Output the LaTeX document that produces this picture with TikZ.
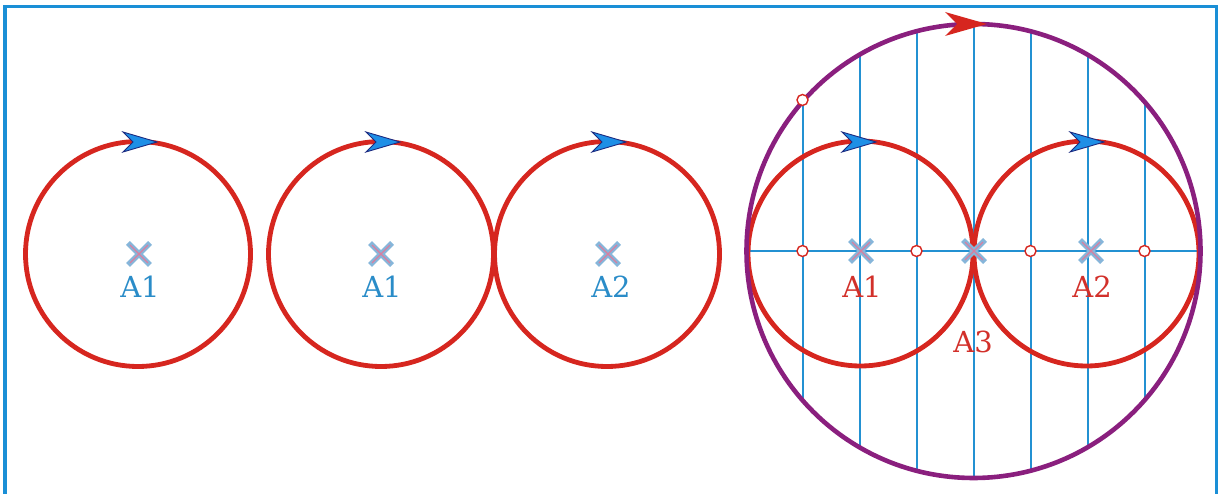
\documentclass[tikz,border=0pt]{standalone}
\usepackage{fontspec}
\setmainfont{DejaVu Serif}
\definecolor{frameblue}{HTML}{1A8FD6}
\definecolor{gridblue}{HTML}{2391D2}
\definecolor{circred}{HTML}{D6261F}
\definecolor{bigpurple}{HTML}{8A1F7E}
\definecolor{labblue}{HTML}{2A8CC8}
\definecolor{labred}{HTML}{D2302A}
\definecolor{crossblue}{HTML}{86B6DA}
\definecolor{crosspink}{HTML}{D77FA0}
\definecolor{tipblue}{HTML}{1E8FE6}
\definecolor{tipdark}{HTML}{1B2A80}
\tikzset{
  orbit/.style={draw=circred, line width=4.8pt},
  bigorbit/.style={draw=bigpurple, line width=4.6pt},
  gridline/.style={draw=gridblue, line width=2pt},
  lab/.style={font=\fontsize{29}{34}\selectfont, inner sep=0pt, anchor=base},
  dot/.style={circle, draw=circred, fill=white, line width=1.4pt, minimum size=11pt, inner sep=0pt},
  pics/crossmark/.style={code={
    \draw[crossblue, line width=5.5pt] (-11,-11) -- (11,11) (-11,11) -- (11,-11);
    \draw[crosspink, line width=1.2pt] (-9,-9) -- (9,9) (-9,9) -- (9,-9);
  }},
  pics/bluetip/.style={code={
    \filldraw[fill=tipblue, draw=tipdark, line width=0.9pt, line join=miter]
      (0,0) -- (-34,-10) -- (-24,0) -- (-34,10) -- cycle;
  }},
  pics/redtip/.style={code={
    \fill[circred] (0,0) -- (-42,-12) -- (-30,0) -- (-42,12) -- cycle;
  }}
}
\begin{document}
\begin{tikzpicture}[x=1pt,y=-1pt]
\useasboundingbox (0,0) rectangle (1219,494);
% frame
\draw[frameblue, line width=3.2pt] (5,6.5) rectangle (1216.5,498);
% first three circles
\draw[orbit] (138,254) circle (112.5);
\draw[orbit] (381,254) circle (112.5);
\draw[orbit] (607,254) circle (112.5);
\pic at (157,142) {bluetip};
\pic at (400,142) {bluetip};
\pic at (626,142) {bluetip};
\pic at (139,254) {crossmark};
\pic at (381,254) {crossmark};
\pic at (608,254) {crossmark};
\node[lab, text=labblue] (a1l) at (140,298) {A1};
\node[lab, text=labblue] (a1m) at (382,298) {A1};
\node[lab, text=labblue] (a2m) at (611,298) {A2};
% big figure
\coordinate (bc) at (973.5,251);
\begin{scope}
  \clip (bc) circle (227);
  \foreach \k in {-3,...,3} {
    \draw[gridline] (973.5+57*\k,0) -- (973.5+57*\k,494);
  }
  \draw[gridline] (740,251) -- (1210,251);
\end{scope}
\draw[orbit] (860.5,253.5) circle (112.5);
\draw[orbit] (1086.5,253.5) circle (112.5);
\draw[bigorbit] (bc) circle (227);
\pic at (987,24) {redtip};
\pic at (876,142) {bluetip};
\pic at (1104,142) {bluetip};
\pic at (861,251) {crossmark};
\pic at (974,251) {crossmark};
\pic at (1091,251) {crossmark};
\node[dot] (p1) at (802.5,251) {};
\node[dot] (p2) at (916.5,251) {};
\node[dot] (p3) at (1030.5,251) {};
\node[dot] (p4) at (1144.5,251) {};
\node[dot] (p5) at (802.5,100) {};
\node[lab, text=labred] (a1r) at (862,298) {A1};
\node[lab, text=labred] (a2r) at (1092,298) {A2};
\node[lab, text=labred] (a3r) at (973,353) {A3};
\end{tikzpicture}
\end{document}
